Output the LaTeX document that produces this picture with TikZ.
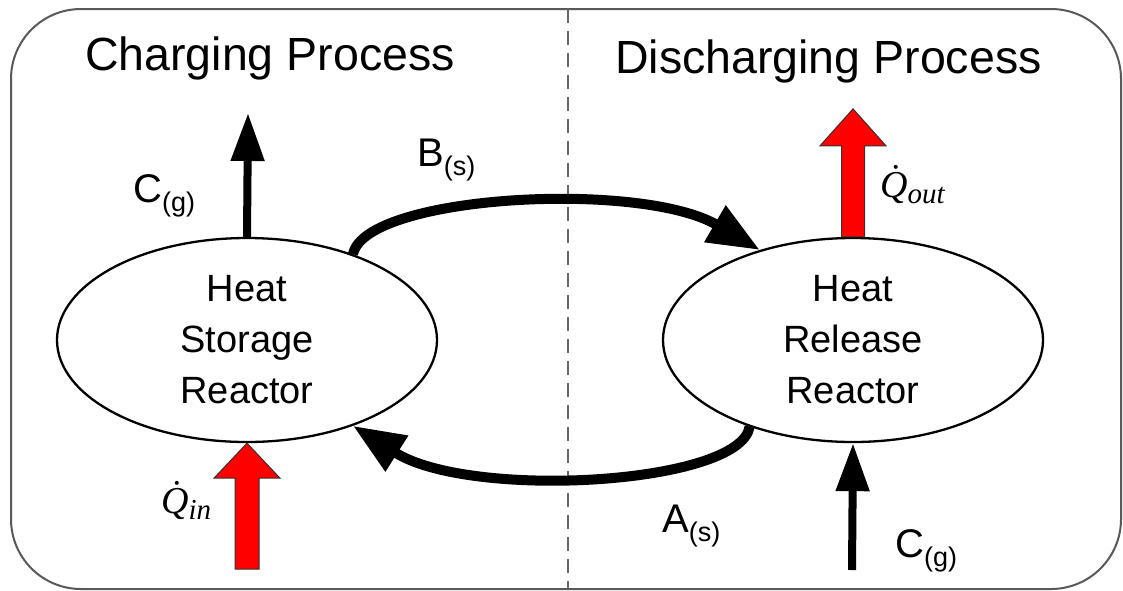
\documentclass[tikz,border=0pt]{standalone}
\usepackage{fontspec}
\setmainfont{Liberation Sans}
\newfontfamily\qfont{Liberation Serif}
\usetikzlibrary{shapes.geometric,arrows.meta,calc}
\newcommand{\subtxt}[1]{{\fontsize{27}{30}\selectfont\raisebox{-9pt}{#1}}}
\newcommand{\qdotsym}[1]{{\qfont\itshape \.{Q}\raisebox{-6pt}{\fontsize{29}{30}\selectfont #1}}}
\begin{document}
\begin{tikzpicture}[x=1pt,y=-1pt,
  frame/.style={draw=black!65,line width=2pt,rounded corners=70pt},
  divider/.style={draw=black!60,line width=2pt,dash pattern=on 14pt off 8pt},
  reactor/.style={ellipse,draw=black,line width=2.3pt,minimum width=380pt,minimum height=204pt,inner sep=0pt,align=center,font=\fontsize{38}{51}\selectfont},
  title/.style={anchor=base west,inner sep=0pt,font=\fontsize{46.5}{50}\selectfont},
  lbl/.style={anchor=base west,inner sep=0pt,font=\fontsize{40}{44}\selectfont},
  qlbl/.style={anchor=base west,inner sep=0pt,font=\fontsize{38}{40}\selectfont},
  gasarrow/.style={line width=8pt,-{Triangle[length=48pt,width=32pt]}},
  solidarrow/.style={line width=10pt,-{Triangle[length=52pt,width=40pt]}},
  heatarrow/.style={fill=red,draw=black!80,line width=1pt,line join=miter}
]
\useasboundingbox (0,0) rectangle (1123,590);
\fill[white] (0,0) rectangle (1123,590);
\draw[frame] (11,9) rectangle (1121,589);
\coordinate (dtop) at (568,9);
\coordinate (dbot) at (568,589);
\draw[divider] (dtop) -- (dbot);

\node[title] (tcharge) at (85,70) {Charging Process};
\node[title] (tdischarge) at (615,73) {Discharging Process};

\node[reactor] (storage) at (247,340) {Heat\\Storage\\Reactor};
\node[reactor] (release) at (853,340) {Heat\\Release\\Reactor};

% gas arrows
\coordinate (cgtop) at (248,113);
\draw[gasarrow] (storage.north) -- (cgtop);
\coordinate (cgbot) at (852,570);
\draw[gasarrow] (cgbot) -- (release.south);

% solid transport arrows
\draw[solidarrow] (storage.39) .. controls (365,195) and (640,180) .. (release.136);
\draw[solidarrow] (release.220) .. controls (740,485) and (470,500) .. (storage.-39);

% heat arrows
\draw[heatarrow] (storage.south) -- ++(33,35) -- ++(-21,0) -- ++(0,91) -- ++(-24,0) -- ++(0,-91) -- ++(-21,0) -- cycle;
\draw[heatarrow] ($(release.north)+(-11.5,0)$) -- ++(0,-91) -- ++(-21.5,0) -- ++(33,-37) -- ++(33,37) -- ++(-21.5,0) -- ++(0,91) -- cycle;

% labels
\node[lbl] (lcg1) at (133,202) {C\subtxt{(g)}};
\node[lbl] (lbs) at (417,166) {B\subtxt{(s)}};
\node[lbl] (las) at (662,532) {A\subtxt{(s)}};
\node[lbl] (lcg2) at (895,557) {C\subtxt{(g)}};
\node[qlbl] (lqin) at (161,513) {\qdotsym{in}};
\node[qlbl] (lqout) at (880,197) {\qdotsym{out}};
\end{tikzpicture}
\end{document}
